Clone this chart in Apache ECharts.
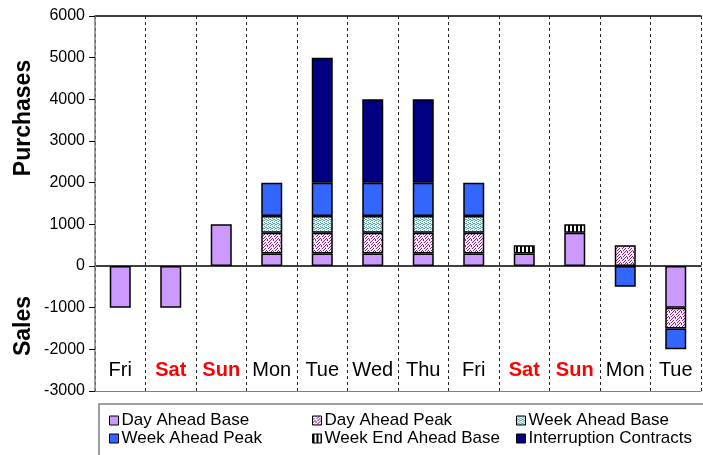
<!DOCTYPE html>
<html><head><meta charset="utf-8">
<script src="https://cdn.jsdelivr.net/npm/echarts@6/dist/echarts.min.js"></script>
<style>html,body{margin:0;padding:0;background:#fff}#c{width:703px;height:455px}</style>
</head><body><div id="c"></div>
<script>
const days = ['Fri','Sat','Sun','Mon','Tue','Wed','Thu','Fri','Sat','Sun','Mon','Tue'];
const weekend = [false,true,true,false,false,false,false,false,true,true,false,false];
const yTicks = [-3000,-2000,-1000,0,1000,2000,3000,4000,5000,6000];
const dayAheadBase      = [-1000,-1000,1000,300,300,300,300,300,300,800,null,-1000];
const dayAheadPeak      = [null,null,null,500,500,500,500,500,null,null,500,-500];
const weekAheadBase     = [null,null,null,400,400,400,400,400,null,null,null,null];
const weekAheadPeak     = [null,null,null,800,800,800,800,800,null,null,-500,-500];
const weekEndAheadBase  = [null,null,null,null,null,null,null,null,200,200,null,null];
const interruption      = [null,null,null,null,3000,2000,2000,null,null,null,null,null];
const seriesNames = ['Day Ahead Base','Day Ahead Peak','Week Ahead Base','Week Ahead Peak','Week End Ahead Base','Interruption Contracts'];

function pattern(w,h,bg,fg,pts){
  const c=document.createElement('canvas');c.width=w;c.height=h;
  const g=c.getContext('2d');g.fillStyle=bg;g.fillRect(0,0,w,h);g.fillStyle=fg;
  pts.forEach(p=>g.fillRect(p[0],p[1],p[2]||1,p[3]||1));
  return {image:c,repeat:'repeat'};
}
const pDAP = pattern(6,6,'#F6E6F6','#7B2A7B',[[0,0],[3,0],[1,2],[4,2],[5,1],[2,4],[0,3],[5,4],[3,5],[1,5]]);
const pWAB = pattern(4,4,'#D4F8F8','#6E9A9A',[[0,0],[2,1],[0,2],[2,3],[3,0],[1,3]]);
const pWEAB = pattern(4,4,'#FFFFFF','#000000',[[0,0,2,4]]);
const fills = ['#CC99FF', pDAP, pWAB, '#3366FF', pWEAB, '#000080'];
const datas = [dayAheadBase,dayAheadPeak,weekAheadBase,weekAheadPeak,weekEndAheadBase,interruption];

const FONT = "'Liberation Sans', Arial, sans-serif";
const chart = echarts.init(document.getElementById('c'));
const series = seriesNames.map((n,i)=>({
  name:n, type:'bar', stack:'total', data:datas[i], barWidth:21,
  itemStyle:{color:fills[i], borderColor:'#000', borderWidth:1.5},
  emphasis:{disabled:true}
}));
const legendBase = {orient:'vertical', itemWidth:9, itemHeight:9, itemGap:1,
  textStyle:{fontFamily:FONT,fontSize:17,color:'#000',padding:[0,0,0,-2]}, icon:'rect',
  itemStyle:{borderColor:'#000',borderWidth:1}, selectedMode:false, padding:0};
chart.setOption({
  animation:false,
  backgroundColor:'#fff',
  grid:{left:95,right:2,top:16,bottom:64,containLabel:false,outerBoundsMode:'none'},
  legend:[
    Object.assign({},legendBase,{left:109,top:412,data:[seriesNames[0],seriesNames[3]]}),
    Object.assign({},legendBase,{left:312,top:412,data:[seriesNames[1],seriesNames[4]]}),
    Object.assign({},legendBase,{left:516,top:412,data:[seriesNames[2],seriesNames[5]]})
  ],
  xAxis:[
    {type:'category',data:days,z:1,
     axisLine:{onZero:true,lineStyle:{color:'#000',width:1.5}},
     axisTick:{show:false},
     splitLine:{show:true,interval:0,lineStyle:{color:'#222',width:1,type:[3,3]}},
     axisLabel:{interval:0,margin:-31,fontFamily:FONT,fontSize:20,color:'#000',hideOverlap:false,
       formatter:(v,i)=>weekend[i]?'{w|'+v+'}':v,
       rich:{w:{color:'#FF0000',fontWeight:'bold',fontSize:20,fontFamily:FONT}}}},
    {type:'category',data:days,position:'top',
     axisLine:{onZero:false,lineStyle:{color:'#000',width:1.5}},
     axisTick:{show:false},axisLabel:{show:false}},
    {type:'category',data:days,position:'bottom',
     axisLine:{onZero:false,lineStyle:{color:'#808080',width:1}},
     axisTick:{show:false},axisLabel:{show:false}}
  ],
  yAxis:{type:'value',min:yTicks[0],max:yTicks[yTicks.length-1],interval:1000,z:3,
    axisLine:{show:true,lineStyle:{color:'#808080',width:1.5}},
    axisTick:{show:true,length:6,lineStyle:{color:'#000'}},
    splitLine:{show:false},
    axisLabel:{margin:10,fontFamily:FONT,fontSize:16,color:'#000',formatter:v=>String(v)}},
  series:series,
  graphic:[
    {type:'rect',shape:{x:99,y:404,width:620,height:70},style:{fill:'none',stroke:'#808080',lineWidth:1.5},silent:true},
    {type:'text',x:24,y:118,rotation:Math.PI/2,style:{text:'Purchases',font:"bold 23px 'Liberation Sans', Arial, sans-serif",fill:'#000',align:'center',verticalAlign:'middle'}},
    {type:'text',x:24,y:326,rotation:Math.PI/2,style:{text:'Sales',font:"bold 23px 'Liberation Sans', Arial, sans-serif",fill:'#000',align:'center',verticalAlign:'middle'}}
  ]
});
</script></body></html>
